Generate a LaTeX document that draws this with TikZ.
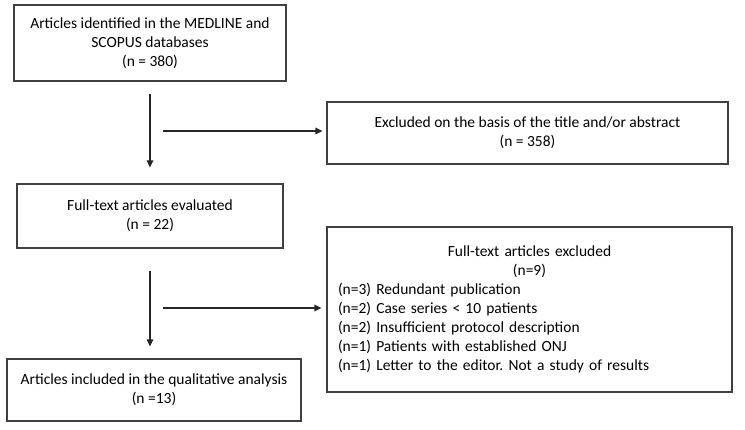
\documentclass[tikz,border=0pt]{standalone}
\usepackage{fontspec}
\setmainfont{Carlito}
\frenchspacing
\usetikzlibrary{arrows.meta}
\begin{document}
\begin{tikzpicture}[x=1pt,y=1pt,
  box/.style={draw=black!75, line width=1.1pt, align=center, inner sep=0pt,
    font=\fontsize{15.5}{19}\selectfont},
  arr/.style={draw=black!85, line width=1.1pt, -{Triangle[length=7pt,width=6.5pt]}}]
\useasboundingbox (0,0) rectangle (745,429);
\node[box, minimum width=272, minimum height=76] (b1) at (150,386)
  {Articles identified in the MEDLINE and\\SCOPUS databases\\(n = 380)};
\node[box, minimum width=401, minimum height=62] (b2) at (527.5,296)
  {Excluded on the basis of the title and/or abstract\\(n = 358)};
\node[box, minimum width=266, minimum height=64] (b3) at (150,213)
  {Full-text articles evaluated\\(n = 22)};
\node[box, minimum width=405, minimum height=165, text width=383, align=left] (b4) at (529.5,119.5)
  {\makebox[\linewidth]{Full-text articles excluded}\\
   \makebox[\linewidth]{(n=9)}\\
   (n=3) Redundant publication\\
   (n=2) Case series < 10 patients\\
   (n=2) Insufficient protocol description\\
   (n=1) Patients with established ONJ\\
   (n=1) Letter to the editor. Not a study of results\\[4pt]};
\node[box, minimum width=294, minimum height=62] (b5) at (154,39)
  {Articles included in the qualitative analysis\\(n =13)};
\coordinate (h1) at (163,298);
\coordinate (h2) at (163,121);
\draw[arr, shorten <=12pt, shorten >=16pt] (b1.south) -- (b3.north);
\draw[arr, shorten <=22pt, shorten >=12pt] (b3.south) -- (b3.south |- b5.north);
\draw[arr, shorten >=4pt] (h1) -- (h1 -| b2.west);
\draw[arr, shorten >=5pt] (h2) -- (h2 -| b4.west);
\end{tikzpicture}
\end{document}
